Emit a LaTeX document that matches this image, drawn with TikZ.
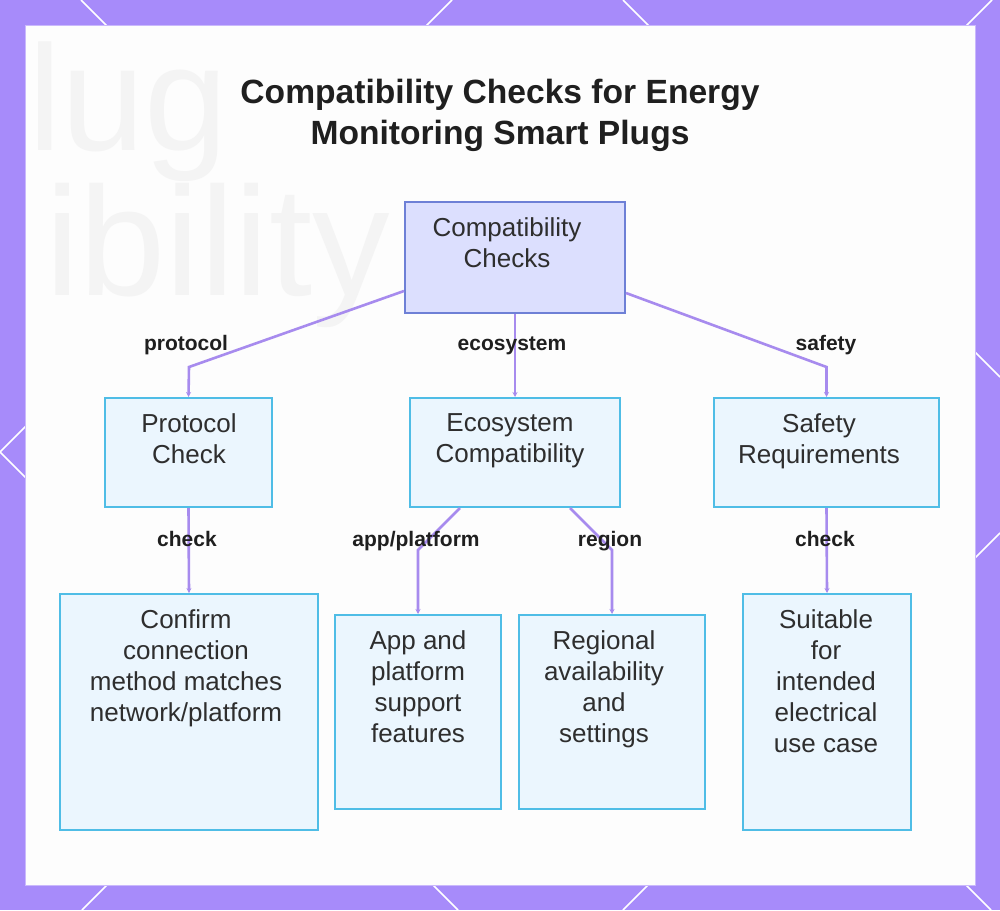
\documentclass[tikz,border=0pt]{standalone}
\usepackage{fontspec}
\setmainfont{Liberation Sans}
\usetikzlibrary{calc,arrows.meta}
\definecolor{bgpurple}{HTML}{A78BFA}
\definecolor{panelwhite}{HTML}{FDFDFD}
\definecolor{connpurple}{HTML}{A78BEE}
\definecolor{rootfill}{HTML}{DCDFFE}
\definecolor{rootline}{HTML}{6E80D6}
\definecolor{childfill}{HTML}{EBF6FE}
\definecolor{childline}{HTML}{4FBDE6}
\definecolor{txt}{HTML}{2E2E2E}
\definecolor{ghost}{HTML}{F4F4F4}
\tikzset{
  rootbox/.style={draw=rootline, fill=rootfill, line width=2pt, inner sep=0pt},
  childbox/.style={draw=childline, fill=childfill, line width=2pt, inner sep=0pt},
  boxtext/.style={anchor=north, inner sep=0pt, align=center, text=txt,
    font=\fontsize{26}{31}\selectfont},
  edgelabel/.style={anchor=base, inner sep=0pt, text=black!88,
    font=\bfseries\fontsize{21}{24}\selectfont},
  conn/.style={draw=connpurple, line width=2.6pt, -{Stealth[length=5pt,width=5pt]}},
  deco/.style={draw=white, line width=1.6pt},
}
\begin{document}
\begin{tikzpicture}[x=1pt,y=-1pt]
\useasboundingbox (0,0) rectangle (1000,910);
% background and border decoration
\fill[bgpurple] (0,0) rectangle (1000,910);
\draw[deco] (81,0) -- (991,910);
\draw[deco] (992,0) -- (82,910);
\draw[deco] (452,0) -- (0,452) -- (458,910);
\draw[deco] (623,0) -- (1000,377);
\draw[deco] (623,910) -- (1000,533);
\fill[panelwhite] (25,25) rectangle (975,885);
\draw[bgpurple!60, line width=0.8pt] (25,25) rectangle (975,885);
% faint ghost text in background
\begin{scope}
\clip (25,25) rectangle (975,885);
\node[anchor=base west, inner sep=0pt, text=ghost, font=\fontsize{150}{150}\selectfont] (g1) at (28,150) {lug};
\node[anchor=base east, inner sep=0pt, text=ghost, font=\fontsize{155}{155}\selectfont] (g2) at (390,295) {ibility};
\end{scope}
% title
\node[anchor=north, align=center, inner sep=0pt, text=black!88,
  font=\bfseries\fontsize{33.6}{41}\selectfont] (title) at (500,79)
  {Compatibility Checks for Energy\\Monitoring Smart Plugs};
% boxes
\node[rootbox, minimum width=220pt, minimum height=111pt] (root) at (515,257.5) {};
\node[childbox, minimum width=167pt, minimum height=109pt] (protocol) at (188.5,452.5) {};
\node[childbox, minimum width=210pt, minimum height=109pt] (eco) at (515,452.5) {};
\node[childbox, minimum width=225pt, minimum height=109pt] (safety) at (826.5,452.5) {};
\node[childbox, minimum width=258pt, minimum height=236pt] (confirm) at (189,712) {};
\node[childbox, minimum width=166pt, minimum height=194pt] (app) at (418,712) {};
\node[childbox, minimum width=186pt, minimum height=194pt] (regional) at (612,712) {};
\node[childbox, minimum width=168pt, minimum height=236pt] (suitable) at (827,712) {};
% box texts
\node[boxtext] (rootT) at (507,217) {Compatibility\\Checks};
\node[boxtext] (protocolT) at (189,413) {Protocol\\Check};
\node[boxtext] (ecoT) at (510,413) {Ecosystem\\Compatibility};
\node[boxtext] (safetyT) at (819,413) {Safety\\Requirements};
\node[boxtext] (confirmT) at (186,609) {Confirm\\connection\\method matches\\network/platform};
\node[boxtext] (appT) at (418,630) {App and\\platform\\support\\features};
\node[boxtext] (regionalT) at (604,630) {Regional\\availability\\and\\settings};
\node[boxtext] (suitableT) at (826,609) {Suitable\\for\\intended\\electrical\\use case};
% bend points
\coordinate (b1) at (189,367);
\coordinate (b2) at (826.5,367);
\coordinate (b3) at (418,550);
\coordinate (b4) at (612,550);
% connectors
\draw[conn] ($(root.south west)+(0,-23)$) -- (b1) -- (protocol.north);
\draw[conn] (root.south) -- (eco.north);
\draw[conn] ($(root.south east)+(0,-21)$) -- (b2) -- (safety.north);
\draw[conn] (protocol.south) -- (confirm.north);
\draw[conn] ($(eco.south)+(-55,0)$) -- (b3) -- (app.north);
\draw[conn] ($(eco.south)+(55,0)$) -- (b4) -- (regional.north);
\draw[conn] (safety.south) -- (suitable.north);
% edge labels
\node[edgelabel] (l1) at (186,350) {protocol};
\node[edgelabel] (l2) at (512,350) {ecosystem};
\node[edgelabel] (l3) at (826,350) {safety};
\node[edgelabel] (l4) at (187,546) {check};
\node[edgelabel] (l5) at (416,546) {app/platform};
\node[edgelabel] (l6) at (610,546) {region};
\node[edgelabel] (l7) at (825,546) {check};
\end{tikzpicture}
\end{document}
